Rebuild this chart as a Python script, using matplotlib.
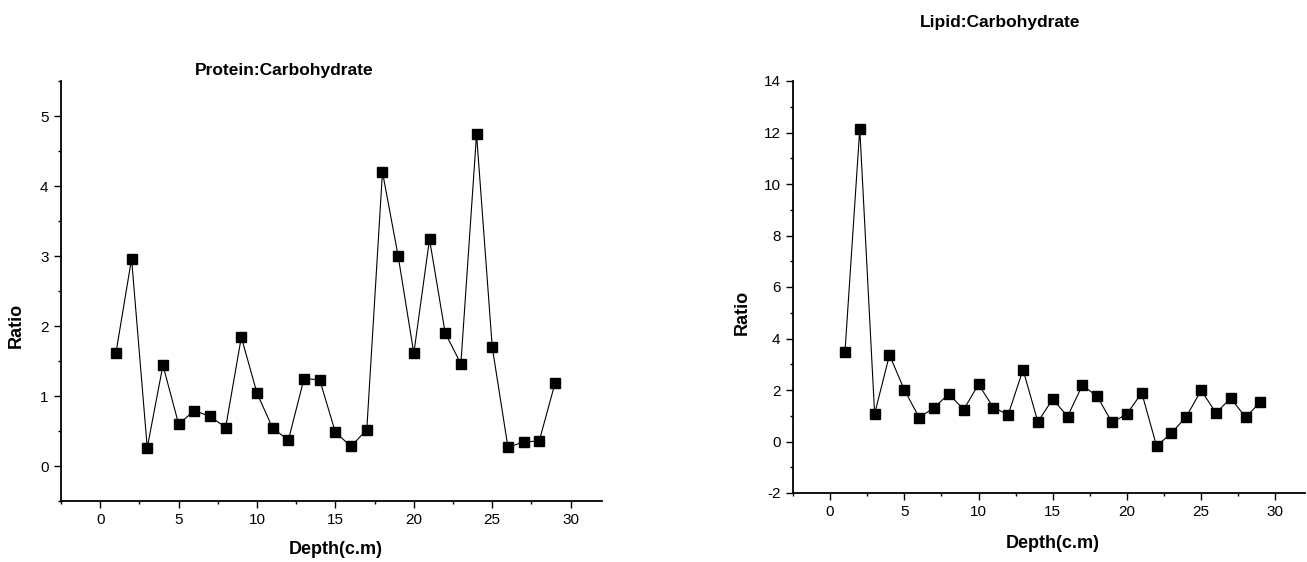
import matplotlib
matplotlib.use("Agg")
import matplotlib.pyplot as plt
from matplotlib.ticker import MultipleLocator

plt.rcParams['font.family'] = ['Liberation Sans', 'DejaVu Sans']
plt.rcParams['axes.unicode_minus'] = False

depth = list(range(1, 30))
protein_carb = [1.61, 2.96, 0.26, 1.44, 0.60, 0.79, 0.71, 0.55, 1.84, 1.04,
                0.54, 0.37, 1.25, 1.23, 0.48, 0.28, 0.52, 4.20, 3.00, 1.61,
                3.24, 1.90, 1.46, 4.74, 1.70, 0.27, 0.34, 0.36, 1.18]
lipid_carb = [3.46, 12.15, 1.07, 3.36, 2.01, 0.93, 1.31, 1.85, 1.24, 2.22,
              1.32, 1.04, 2.79, 0.76, 1.65, 0.97, 2.19, 1.75, 0.74, 1.07,
              1.89, -0.18, 0.33, 0.96, 1.99, 1.11, 1.68, 0.94, 1.54]

W, H = 1307, 562
fig = plt.figure(figsize=(W / 100, H / 100), dpi=100)


def px_axes(x0, y0, x1, y1):
    # pixel box (left, top, right, bottom) -> figure fraction
    return fig.add_axes([x0 / W, 1 - y1 / H, (x1 - x0) / W, (y1 - y0) / H])


def style(ax, ylim, ymajor, yminor):
    ax.set_xlim(-2.5, 32)
    ax.set_ylim(*ylim)
    ax.xaxis.set_major_locator(MultipleLocator(5))
    ax.xaxis.set_minor_locator(MultipleLocator(2.5))
    ax.yaxis.set_major_locator(MultipleLocator(ymajor))
    ax.yaxis.set_minor_locator(MultipleLocator(yminor))
    for s in ('top', 'right'):
        ax.spines[s].set_visible(False)
    for s in ('left', 'bottom'):
        ax.spines[s].set_linewidth(1.3)
    ax.tick_params(which='major', direction='out', length=5, width=1,
                   pad=4, labelsize=11)
    ax.tick_params(which='minor', direction='out', length=2.5, width=1)


ax1 = px_axes(61, 81, 602, 501)
ax1.plot(depth, protein_carb, color='black', linewidth=0.8,
         marker='s', markersize=6.5, markerfacecolor='black', markeredgecolor='black')
style(ax1, (-0.5, 5.5), 1, 0.5)
fig.text(284 / W, 1 - 70 / H, 'Protein:Carbohydrate', ha='center', va='center',
         fontsize=12.5, fontweight='bold')
fig.text(336 / W, 1 - 550 / H, 'Depth(c.m)', ha='center', va='center',
         fontsize=13, fontweight='bold')
fig.text(16 / W, 1 - 325 / H, 'Ratio', ha='center', va='center', rotation=90,
         fontsize=13, fontweight='bold')

ax2 = px_axes(793, 81, 1305, 493)
ax2.plot(depth, lipid_carb, color='black', linewidth=0.8,
         marker='s', markersize=6.5, markerfacecolor='black', markeredgecolor='black')
style(ax2, (-2, 14), 2, 1)
fig.text(1000 / W, 1 - 22 / H, 'Lipid:Carbohydrate', ha='center', va='center',
         fontsize=12.5, fontweight='bold')
fig.text(1053 / W, 1 - 543 / H, 'Depth(c.m)', ha='center', va='center',
         fontsize=13, fontweight='bold')
fig.text(742 / W, 1 - 312 / H, 'Ratio', ha='center', va='center', rotation=90,
         fontsize=13, fontweight='bold')

fig.savefig('out.png', dpi=100)
